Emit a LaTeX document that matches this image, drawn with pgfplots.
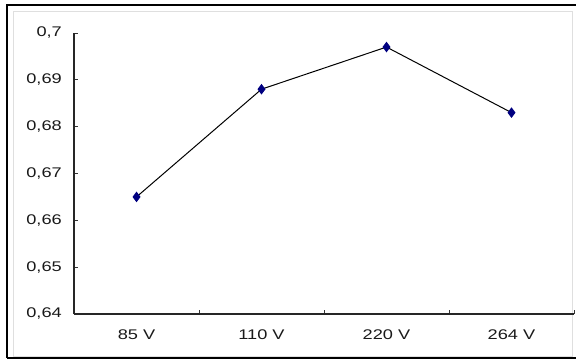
\documentclass[border=0pt]{standalone}
\usepackage{fontspec}
\setmainfont{Liberation Sans}[FakeStretch=1.3]
\usepackage{pgfplots}
\pgfplotsset{compat=1.18}
\definecolor{navyc}{RGB}{0,0,128}
\begin{document}
\begin{tikzpicture}
\path[use as bounding box] (0,0) rectangle (576bp,363bp);
\draw[gray!25, line width=1bp] (13bp,6bp) rectangle (572bp,351bp);
\draw[black, line width=2.5bp] (7bp,5bp) -- (7bp,358bp) -- (580bp,358bp);
\draw[black, line width=2.5bp] (7bp,5bp) -- (580bp,5bp);
\begin{axis}[
  at={(74bp,49bp)}, anchor=south west,
  scale only axis, width=500bp, height=281bp,
  xmin=-0.5, xmax=3.5, ymin=0.64, ymax=0.70,
  axis x line=bottom, axis y line=left,
  axis line style={-, line width=1.3bp, black!85},
  x tick label as interval,
  xtick={-0.5,0.5,1.5,2.5,3.5},
  xticklabels={85 V,110 V,220 V,264 V},
  ytick={0.64,0.65,...,0.705},
  tick align=inside, major tick length=4bp,
  tick style={black!80, line width=0.8bp},
  /pgf/number format/assume math mode=true,
  yticklabel={\pgfmathprintnumber[fixed,precision=2,use comma]{\tick}},
  tick label style={font=\fontsize{14bp}{16bp}\selectfont, text=black!90},
  yticklabel style={anchor=east, inner sep=0pt, xshift=-12bp},
  xticklabel style={anchor=north, inner sep=0pt, yshift=-16bp},
  clip=false,
]
\addplot[black, line width=1bp, mark=diamond*, mark size=4.5bp,
  mark options={fill=navyc, draw=navyc}] coordinates {
  (0,0.665) (1,0.688) (2,0.697) (3,0.683)};
\end{axis}
\end{tikzpicture}
\end{document}
